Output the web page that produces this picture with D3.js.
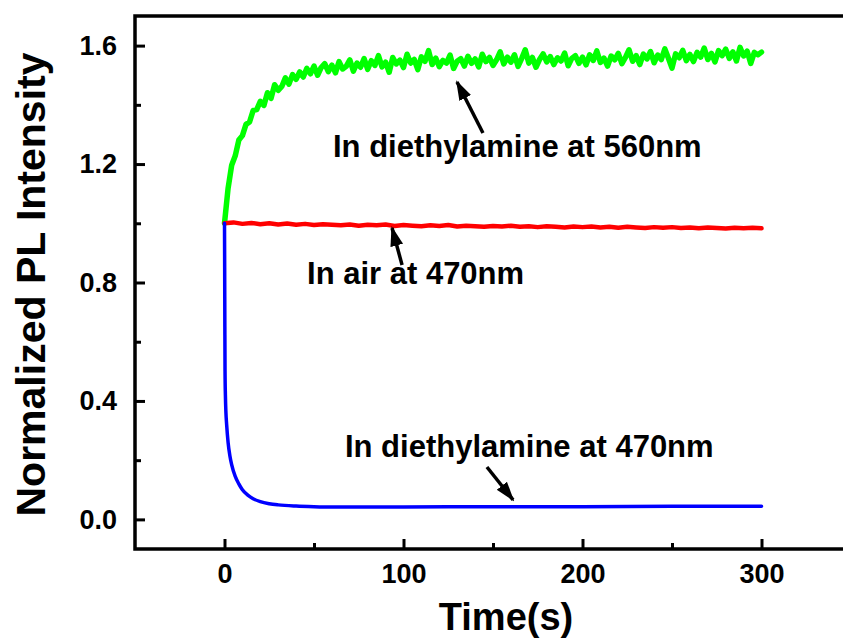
<!DOCTYPE html>
<html>
<head>
<meta charset="utf-8">
<script src="https://cdn.jsdelivr.net/npm/d3@7"></script>
<style>
  html, body { margin: 0; padding: 0; background: #fff; }
  svg { display: block; }
  text { font-family: "Liberation Sans", Arial, sans-serif; font-weight: bold; fill: #000; }
</style>
</head>
<body>
<script>
// ---------- data ----------
const xTicksMajor = [0, 100, 200, 300];
const xTicksMinor = [50, 150, 250];
const yTicksMajor = [0.0, 0.4, 0.8, 1.2, 1.6];
const yTicksMinor = [0.2, 0.6, 1.0, 1.4];

// green: in diethylamine at 560nm (t = 0,2,4,...,300 s)
const greenStep = 2;
const greenValues = [
  1.000, 1.118, 1.196, 1.228, 1.281, 1.296, 1.334, 1.342, 1.381, 1.384,
  1.412, 1.398, 1.441, 1.422, 1.468, 1.449, 1.462, 1.491, 1.470, 1.502,
  1.486, 1.511, 1.494, 1.523, 1.505, 1.531, 1.500, 1.526, 1.539, 1.512,
  1.534, 1.508, 1.546, 1.521, 1.530, 1.552, 1.514, 1.541, 1.527, 1.556,
  1.520, 1.549, 1.533, 1.566, 1.528, 1.544, 1.510, 1.560, 1.538, 1.551,
  1.526, 1.571, 1.541, 1.553, 1.519, 1.562, 1.547, 1.583, 1.536, 1.558,
  1.529, 1.550, 1.541, 1.568, 1.523, 1.547, 1.556, 1.531, 1.564, 1.540,
  1.555, 1.528, 1.571, 1.546, 1.560, 1.533, 1.552, 1.579, 1.538, 1.561,
  1.544, 1.569, 1.530, 1.556, 1.586, 1.541, 1.560, 1.527, 1.553, 1.572,
  1.545, 1.563, 1.536, 1.559, 1.548, 1.575, 1.532, 1.557, 1.566, 1.540,
  1.561, 1.535, 1.569, 1.550, 1.582, 1.543, 1.558, 1.531, 1.565, 1.552,
  1.574, 1.539, 1.560, 1.586, 1.547, 1.566, 1.536, 1.571, 1.555, 1.580,
  1.542, 1.568, 1.553, 1.589, 1.557, 1.524, 1.572, 1.559, 1.584, 1.549,
  1.570, 1.546, 1.577, 1.561, 1.592, 1.553, 1.574, 1.545, 1.583, 1.566,
  1.588, 1.557, 1.579, 1.548, 1.594, 1.565, 1.581, 1.540, 1.577, 1.569,
  1.578
];

// red: in air at 470nm (t = 0,5,10,...,300 s)
const redStep = 5;
const redValues = [
  1.000, 1.003, 0.998, 1.001, 0.997, 1.000, 0.996, 0.999, 0.995, 0.998,
  0.994, 0.997, 0.995, 0.993, 0.996, 0.992, 0.995, 0.993, 0.996, 0.991,
  0.994, 0.992, 0.990, 0.993, 0.991, 0.994, 0.989, 0.992, 0.990, 0.988,
  0.991, 0.989, 0.992, 0.988, 0.990, 0.987, 0.990, 0.988, 0.986, 0.989,
  0.987, 0.989, 0.986, 0.988, 0.985, 0.988, 0.986, 0.984, 0.987, 0.985,
  0.987, 0.984, 0.986, 0.983, 0.986, 0.984, 0.982, 0.985, 0.983, 0.985,
  0.983
];

// blue: in diethylamine at 470nm
const blueTimes  = [0, 0.1, 0.2, 0.3, 0.5, 0.8, 1.2, 2, 3, 4, 6, 8, 10, 13, 16, 20, 25, 30, 40, 50, 60, 80, 100, 150, 200, 250, 300];
const blueValues = [1.0, 0.85, 0.65, 0.5, 0.42, 0.36, 0.32, 0.26, 0.215, 0.185, 0.145, 0.12, 0.1, 0.082, 0.07, 0.06, 0.053, 0.049, 0.045, 0.043, 0.042, 0.042, 0.042, 0.043, 0.043, 0.044, 0.044];

// annotations (data coordinates)
const annoLabels = ["In diethylamine at 560nm", "In air at 470nm", "In diethylamine at 470nm"];
const annoTextX  = [60.6, 46.1, 67.3];
const annoTextY  = [1.224, 0.795, 0.211];
const arrowFromX = [144.4, 99.2, 146.6];
const arrowFromY = [1.305, 0.859, 0.177];
const arrowToX   = [129.9, 93.6, 161.2];
const arrowToY   = [1.477, 0.984, 0.066];

// ---------- layout ----------
const W = 843, H = 639;
const svg = d3.select("body").append("svg").attr("width", W).attr("height", H);

const x = d3.scaleLinear().domain([-50, 350]).range([135, 851]);
const y = d3.scaleLinear().domain([-0.1, 1.7]).range([549, 16]);

svg.append("defs").append("clipPath").attr("id", "plotclip")
  .append("rect").attr("x", 135).attr("y", 16).attr("width", 716).attr("height", 533);

svg.select("defs").append("marker")
  .attr("id", "ah").attr("markerUnits", "userSpaceOnUse")
  .attr("markerWidth", 20).attr("markerHeight", 16)
  .attr("viewBox", "0 -8 20 16").attr("refX", 18).attr("refY", 0)
  .attr("orient", "auto")
  .append("path").attr("d", "M0,-6.5L20,0L0,6.5Z").attr("fill", "#000");

// ---------- curves ----------
const line = d3.line().x(d => x(d[0])).y(d => y(d[1]));
const greenData = greenValues.map((v, i) => [i * greenStep, v]);
const redData = redValues.map((v, i) => [i * redStep, v]);
const blueData = blueTimes.map((t, i) => [t, blueValues[i]]);

const g = svg.append("g").attr("clip-path", "url(#plotclip)");
g.append("path").datum(greenData).attr("d", line)
  .attr("fill", "none").attr("stroke", "#00ff00").attr("stroke-width", 5.5).attr("stroke-linejoin", "round").attr("stroke-linecap", "round");
g.append("path").datum(redData).attr("d", line)
  .attr("fill", "none").attr("stroke", "#ff0000").attr("stroke-width", 4.5).attr("stroke-linejoin", "round").attr("stroke-linecap", "round");
g.append("path").datum(blueData).attr("d", d3.line().curve(d3.curveMonotoneX).x(d => x(d[0])).y(d => y(d[1])))
  .attr("fill", "none").attr("stroke", "#0000ff").attr("stroke-width", 3.5).attr("stroke-linejoin", "round").attr("stroke-linecap", "round");

// ---------- axes ----------
const fontTick = "27px";
const xAxisMajor = svg.append("g").attr("transform", `translate(0,${y(-0.1)})`)
  .call(d3.axisBottom(x).tickValues(xTicksMajor).tickSize(-10).tickPadding(15).tickFormat(d3.format("d")));
const xAxisMinor = svg.append("g").attr("transform", `translate(0,${y(-0.1)})`)
  .call(d3.axisBottom(x).tickValues(xTicksMinor).tickSize(-6).tickFormat(""));
const yAxisMajor = svg.append("g").attr("transform", `translate(${x(-50)},0)`)
  .call(d3.axisLeft(y).tickValues(yTicksMajor).tickSize(-10).tickPadding(18).tickFormat(d3.format(".1f")));
const yAxisMinor = svg.append("g").attr("transform", `translate(${x(-50)},0)`)
  .call(d3.axisLeft(y).tickValues(yTicksMinor).tickSize(-6).tickFormat(""));

[xAxisMajor, xAxisMinor, yAxisMajor, yAxisMinor].forEach(a => {
  a.select(".domain").remove();
  a.selectAll(".tick line").attr("stroke", "#000").attr("stroke-width", 3);
  a.selectAll(".tick text").style("font-size", fontTick).style("font-family", '"Liberation Sans", Arial, sans-serif').style("font-weight", "bold").attr("fill", "#000");
});

// frame
svg.append("rect")
  .attr("x", x(-50)).attr("y", y(1.7))
  .attr("width", x(350) - x(-50)).attr("height", y(-0.1) - y(1.7))
  .attr("fill", "none").attr("stroke", "#000").attr("stroke-width", 3.5);

// ---------- annotations ----------
annoLabels.forEach((lab, i) => {
  svg.append("line")
    .attr("x1", x(arrowFromX[i])).attr("y1", y(arrowFromY[i]))
    .attr("x2", x(arrowToX[i])).attr("y2", y(arrowToY[i]))
    .attr("stroke", "#000").attr("stroke-width", 3.5)
    .attr("marker-end", "url(#ah)");
  svg.append("text")
    .attr("x", x(annoTextX[i])).attr("y", y(annoTextY[i]))
    .style("font-size", "31px")
    .text(lab);
});

// ---------- titles ----------
svg.append("text")
  .attr("x", 506).attr("y", 630)
  .attr("text-anchor", "middle")
  .style("font-size", "38px")
  .text("Time(s)");

svg.append("text")
  .attr("transform", `translate(45,${(y(-0.1) + y(1.7)) / 2 + 2}) rotate(-90)`)
  .attr("text-anchor", "middle")
  .style("font-size", "41px")
  .text("Normalized PL Intensity");
</script>
</body>
</html>
